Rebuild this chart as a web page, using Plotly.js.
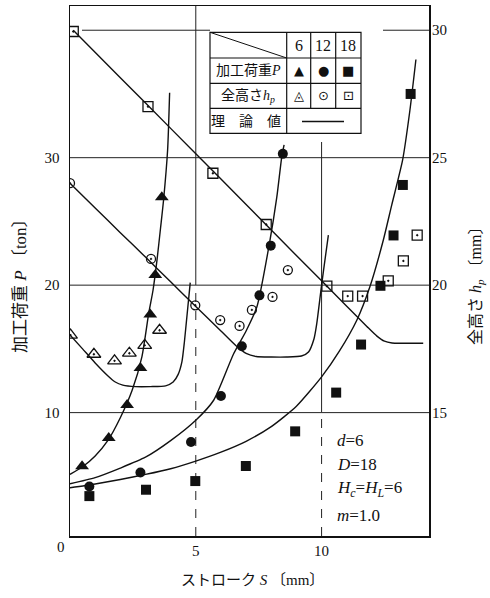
<!DOCTYPE html>
<html><head><meta charset="utf-8">
<script src="https://cdn.plot.ly/plotly-3.0.1.min.js"></script>
<style>html,body{margin:0;padding:0;background:#fff}</style>
</head><body><div id="chart" style="width:490px;height:598px"></div>
<script>
// ---------- measured data: load P (ton) vs stroke S (mm) ----------
const p6S  = [0.48, 1.54, 2.27, 2.80, 3.19, 3.39, 3.65];
const p6P  = [5.8, 8.0, 10.6, 13.5, 17.7, 20.8, 26.9];
const p12S = [0.77, 2.80, 4.81, 6.00, 6.83, 7.53, 7.98, 8.46];
const p12P = [4.2, 5.3, 7.7, 11.3, 15.2, 19.2, 23.1, 30.3];
const p18S = [0.77, 3.02, 4.98, 6.99, 8.95, 10.58, 11.57, 12.34, 12.86, 13.23, 13.54];
const p18P = [3.45, 3.95, 4.63, 5.81, 8.53, 11.57, 15.34, 19.95, 23.9, 27.86, 35.0];

// ---------- measured data: total height h_p (mm) vs stroke S ----------
const h6S  = [0.02, 0.95, 1.77, 2.36, 2.97, 3.56];
const h6H  = [18.04, 17.29, 17.03, 17.33, 17.64, 18.23];
const h12S = [0.0, 3.22, 4.98, 5.97, 6.74, 7.23, 8.05, 8.66];
const h12H = [24.0, 21.03, 19.21, 18.63, 18.40, 19.03, 19.54, 20.59];
const h18S = [0.13, 3.10, 5.68, 7.80, 10.21, 11.04, 11.63, 12.65, 13.25, 13.80];
const h18H = [29.95, 27.0, 24.39, 22.38, 19.96, 19.57, 19.57, 20.17, 20.95, 21.96];

// ---------- theoretical curves ----------
const tP6S  = [0, 0.5, 1.0, 1.5, 2.0, 2.47, 2.86, 3.13, 3.30, 3.46, 3.60, 3.72, 3.88, 3.96];
const tP6P  = [5.15, 5.75, 6.6, 7.8, 9.6, 11.75, 14.4, 17.8, 19.6, 22.0, 24.5, 26.7, 30.6, 35.1];
const tP12S = [0, 1, 2, 3, 4, 5, 5.71, 6.5, 7.0, 7.43, 7.93, 8.22, 8.42, 8.51];
const tP12P = [4.42, 4.9, 5.65, 6.5, 7.8, 9.4, 10.97, 14.6, 16.4, 18.3, 23.3, 26.9, 30.1, 31.0];
const tP18S = [0, 1, 2, 3, 4, 5, 6, 7, 8, 9, 10, 10.7, 11.4, 11.92, 12.45, 12.79, 13.22, 13.51, 13.75];
const tP18P = [4.1, 4.4, 4.75, 5.15, 5.6, 6.2, 6.9, 7.75, 8.9, 10.5, 12.8, 14.8, 17.25, 19.87, 23.5, 26.3, 29.8, 33.7, 37.7];

const tH6S  = [0, 0.5, 1.0, 1.5, 1.8, 2.1, 2.6, 3.2, 3.8, 4.1, 4.3, 4.45, 4.55, 4.65, 4.72, 4.78];
const tH6H  = [18.05, 17.5, 16.95, 16.45, 16.2, 16.08, 16.02, 16.02, 16.05, 16.2, 16.5, 17.0, 17.8, 18.8, 19.5, 20.1];
const tH12S = [0, 1, 2, 3, 4, 5, 6, 6.6, 7.0, 7.4, 8.0, 8.6, 9.2, 9.48, 9.7, 9.81, 10.0, 10.15, 10.27];
const tH12H = [24.0, 23.03, 22.06, 21.1, 20.13, 19.16, 18.2, 17.62, 17.32, 17.2, 17.18, 17.18, 17.22, 17.38, 17.9, 18.5, 20.0, 21.1, 21.96];
const tH18S = [0.13, 2, 4, 6, 8, 10, 11, 11.8, 12.2, 12.5, 12.8, 13.2, 14.04];
const tH18H = [30.0, 28.14, 26.15, 24.16, 22.16, 20.17, 19.17, 18.38, 18.0, 17.8, 17.73, 17.72, 17.72];

// ---------- axis ticks / labels ----------
const xTicks  = [5, 10];
const yTicks  = [10, 20, 30];
const y2Ticks = [15, 20, 25, 30];
const gridP   = [10, 20, 30];
const legendCols = ['6', '12', '18'];

// ---------- layout helpers (pixel -> paper) ----------
const L = 70, T = 6, PW = 359, PH = 530;
const fx = p => (p - L) / PW;
const fy = p => (T + PH - p) / PH;

const serif = "'Liberation Serif', 'Noto Sans CJK JP', serif";
const cjk = "'Liberation Serif', 'Noto Sans CJK JP', serif";
const black = '#111';

function theory(x, y, axis) {
  return {x, y, yaxis: axis, type: 'scatter', mode: 'lines', hoverinfo: 'skip',
    line: {color: black, width: 1.4, shape: 'spline', smoothing: 0.6}, showlegend: false};
}
function pts(x, y, axis, symbol, size, lw) {
  return {x, y, yaxis: axis, type: 'scatter', mode: 'markers', showlegend: false,
    marker: {symbol, size, color: black, line: {color: black, width: lw || 0}}};
}
function ptsOpen(x, y, axis, symbol, size) {
  return {x, y, yaxis: axis, type: 'scatter', mode: 'markers', showlegend: false,
    marker: {symbol, size, color: black, line: {color: black, width: 1.3}}};
}

const traces = [
  theory(tP6S, tP6P, 'y'), theory(tP12S, tP12P, 'y'), theory(tP18S, tP18P, 'y'),
  theory(tH6S, tH6H, 'y2'), theory(tH12S, tH12H, 'y2'), theory(tH18S, tH18H, 'y2'),
  pts(p6S, p6P, 'y', 'triangle-up', 12),
  pts(p12S, p12P, 'y', 'circle', 10),
  pts(p18S, p18P, 'y', 'square', 10),
  ptsOpen(h6S, h6H, 'y2', 'triangle-up-open-dot', 12),
  ptsOpen(h12S, h12H, 'y2', 'circle-open-dot', 9),
  ptsOpen(h18S, h18H, 'y2', 'square-open-dot', 10)
];

const shapes = [];
const gl = {color: '#222', width: 1};
gridP.forEach(v => shapes.push({type: 'line', layer: 'below', xref: 'paper', yref: 'y', x0: 0, x1: 1, y0: v, y1: v, line: gl}));
// top (40 t) grid line, interrupted by the table
shapes.push({type: 'line', layer: 'below', xref: 'paper', yref: 'y', x0: fx(82), x1: fx(210), y0: 40, y1: 40, line: gl});
shapes.push({type: 'line', layer: 'below', xref: 'paper', yref: 'y', x0: fx(383), x1: 1, y0: 40, y1: 40, line: gl});
// vertical grid lines
shapes.push({type: 'line', layer: 'below', xref: 'x', yref: 'paper', x0: 5, x1: 5, y0: fy(285), y1: 1, line: gl});
shapes.push({type: 'line', layer: 'below', xref: 'x', yref: 'paper', x0: 5, x1: 5, y0: 0, y1: fy(285), line: {color: '#222', width: 1, dash: 'dash'}});
shapes.push({type: 'line', layer: 'below', xref: 'x', yref: 'paper', x0: 10, x1: 10, y0: fy(412), y1: fy(142), line: gl});
shapes.push({type: 'line', layer: 'below', xref: 'x', yref: 'paper', x0: 10, x1: 10, y0: 0, y1: fy(412), line: {color: '#222', width: 1, dash: 'dash'}});

// legend table
const tb = {color: black, width: 1.2};
const tL = 210, tR = 361, rows = [32.3, 58, 83.3, 108.3, 133.3], cols = [286.7, 310.7, 335.7];
shapes.push({type: 'rect', xref: 'paper', yref: 'paper', x0: fx(tL), x1: fx(tR), y0: fy(rows[4]), y1: fy(rows[0]), line: tb, fillcolor: '#fff', layer: 'above'});
[rows[1], rows[2], rows[3]].forEach(r => shapes.push({type: 'line', xref: 'paper', yref: 'paper', x0: fx(tL), x1: fx(tR), y0: fy(r), y1: fy(r), line: tb}));
shapes.push({type: 'line', xref: 'paper', yref: 'paper', x0: fx(cols[0]), x1: fx(cols[0]), y0: fy(rows[4]), y1: fy(rows[0]), line: tb});
[cols[1], cols[2]].forEach(c => shapes.push({type: 'line', xref: 'paper', yref: 'paper', x0: fx(c), x1: fx(c), y0: fy(rows[3]), y1: fy(rows[0]), line: tb}));
shapes.push({type: 'line', xref: 'paper', yref: 'paper', x0: fx(tL), x1: fx(cols[0]), y0: fy(rows[0]), y1: fy(rows[1]), line: {color: black, width: 1}});
shapes.push({type: 'line', xref: 'paper', yref: 'paper', x0: fx(302), x1: fx(344), y0: fy(121.5), y1: fy(121.5), line: {color: black, width: 1.5}});

const ann = [];
function A(text, x, y, opts) {
  ann.push(Object.assign({text, xref: 'paper', yref: 'paper', x: fx(x), y: fy(y), showarrow: false,
    xanchor: 'center', yanchor: 'middle', font: {family: serif, size: 15, color: black}}, opts || {}));
}
// axis titles
A('加工荷重 <i>P</i> 〔ton〕', 20, 282, {textangle: -90, font: {family: cjk, size: 17, color: black}});
A('全高さ <i>h</i><sub><i>p</i></sub> 〔mm〕', 476, 282, {textangle: -90, font: {family: cjk, size: 16, color: black}});
A('ストローク <i>S</i> 〔mm〕', 252, 580, {font: {family: cjk, size: 15, color: black}});
A('0', 61, 547);
// legend table text
const colC = [298.7, 323.2, 348.3];
legendCols.forEach((t, i) => A(t, colC[i], 45.5, {font: {family: serif, size: 16, color: black}}));
A('加工荷重<i>P</i>', 248, 70.5, {font: {family: cjk, size: 14, color: black}});
A('全高さ<i>h</i><sub><i>p</i></sub>', 248, 95.5, {font: {family: cjk, size: 14, color: black}});
A('理　論　値', 246, 121, {font: {family: cjk, size: 14, color: black}});
const sym = "'DejaVu Sans', sans-serif";
A('▲', colC[0], 70.5, {font: {family: sym, size: 13, color: black}});
A('●', colC[1], 70.5, {font: {family: sym, size: 13, color: black}});
A('■', colC[2], 70.5, {font: {family: sym, size: 13, color: black}});
A('◬', colC[0], 95.5, {font: {family: sym, size: 13, color: black}});
A('⊙', colC[1], 95.5, {font: {family: sym, size: 13, color: black}});
A('⊡', colC[2], 95.5, {font: {family: sym, size: 13, color: black}});
// parameter box
const pl = {xanchor: 'left', font: {family: serif, size: 17, color: black}};
A('<i>d</i>=6', 335, 440, pl);
A('<i>D</i>=18', 335, 464, pl);
A('<i>H</i><sub><i>c</i></sub>=<i>H</i><sub><i>L</i></sub>=6', 335, 489, pl);
A('<i>m</i>=1.0', 335, 515, pl);

const axisBase = {showgrid: false, zeroline: false, ticks: '', color: black,
  tickfont: {family: serif, size: 15, color: black}};
const layout = {
  width: 490, height: 598, margin: {l: 70, r: 61, t: 6, b: 62},
  paper_bgcolor: '#fff', plot_bgcolor: '#fff', showlegend: false,
  xaxis: Object.assign({}, axisBase, {range: [0, 14.27], tickvals: xTicks, showline: true, linecolor: black, linewidth: 1.5, mirror: true}),
  yaxis: Object.assign({}, axisBase, {range: [0.32, 41.9], tickvals: yTicks, showline: true, linecolor: black, linewidth: 1.5, mirror: true, ticklabelstandoff: 6}),
  yaxis2: Object.assign({}, axisBase, {range: [10.16, 30.95], tickvals: y2Ticks, overlaying: 'y', side: 'right', showline: false, ticklabelstandoff: 2}),
  shapes, annotations: ann
};
Plotly.newPlot('chart', traces, layout, {staticPlot: true, displayModeBar: false});
</script></body></html>
